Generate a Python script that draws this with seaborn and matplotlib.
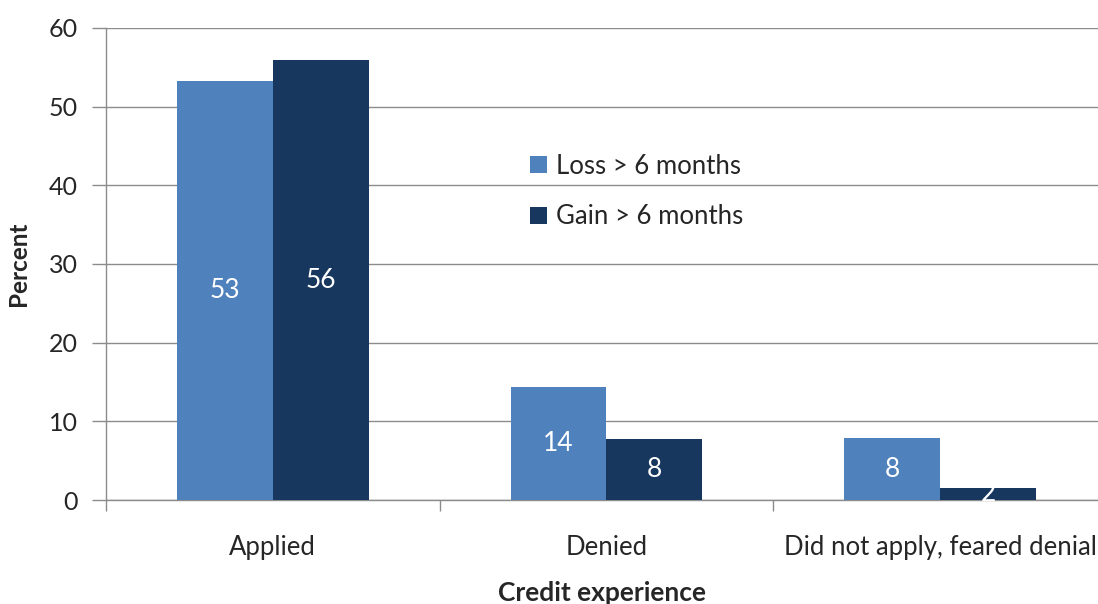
import matplotlib
matplotlib.use("Agg")
import matplotlib.pyplot as plt
import numpy as np
import pandas as pd
import seaborn as sns

CATEGORIES = ["Applied", "Denied", "Did not apply, feared denial"]
SERIES = ["Loss > 6 months", "Gain > 6 months"]
LOSS_VALUES = [53.3, 14.4, 7.9]
GAIN_VALUES = [55.9, 7.8, 1.6]
COLORS = ["#4F81BD", "#17375E"]


def main():
    df = pd.DataFrame({
        "category": CATEGORIES * 2,
        "series": [SERIES[0]] * 3 + [SERIES[1]] * 3,
        "value": LOSS_VALUES + GAIN_VALUES,
    })

    sns.set_theme(style="white")
    plt.rcParams["font.family"] = ["Lato", "DejaVu Sans"]

    fig = plt.figure(figsize=(10.98, 6.04), dpi=100)
    ax = fig.add_axes([0.0965, 0.172, 0.9035, 0.782])

    sns.barplot(data=df, x="category", y="value", hue="series",
                palette=COLORS, width=0.575, saturation=1, ax=ax,
                errorbar=None, zorder=3, linewidth=0)

    for container in ax.containers:
        ax.bar_label(container, labels=[f"{v:.0f}" for v in container.datavalues],
                     label_type="center", color="white", fontsize=19)

    ax.set_ylim(0, 60)
    ax.set_xlim(-0.5, 2.473)
    ax.set_yticks(range(0, 61, 10))
    ax.yaxis.grid(True, color="#8c8c8c", linewidth=1)
    ax.set_axisbelow(True)

    for side in ["top", "right"]:
        ax.spines[side].set_visible(False)
    for side in ["left", "bottom"]:
        ax.spines[side].set_color("#8c8c8c")
        ax.spines[side].set_linewidth(1)

    ax.tick_params(axis="y", length=10, width=1, color="#8c8c8c",
                   labelsize=18, left=True, pad=10)
    ax.tick_params(axis="x", which="major", length=0, labelsize=18.5, pad=25)
    ax.set_xticks([-0.5, 0.5, 1.5], minor=True)
    ax.tick_params(axis="x", which="minor", length=8, width=1,
                   color="#8c8c8c", bottom=True)

    ax.set_ylabel("Percent", fontsize=17.5, fontweight="bold", labelpad=14)
    ax.set_xlabel("Credit experience", fontsize=19, fontweight="bold",
                  labelpad=15)

    ax.legend(loc="upper left", bbox_to_anchor=(0.417, 0.755), frameon=False,
              fontsize=18.5, handlelength=0.65, handleheight=0.65,
              handletextpad=0.35, labelspacing=1.0, borderaxespad=0)

    fig.savefig("out.png", dpi=100)
    plt.close(fig)


if __name__ == "__main__":
    main()
